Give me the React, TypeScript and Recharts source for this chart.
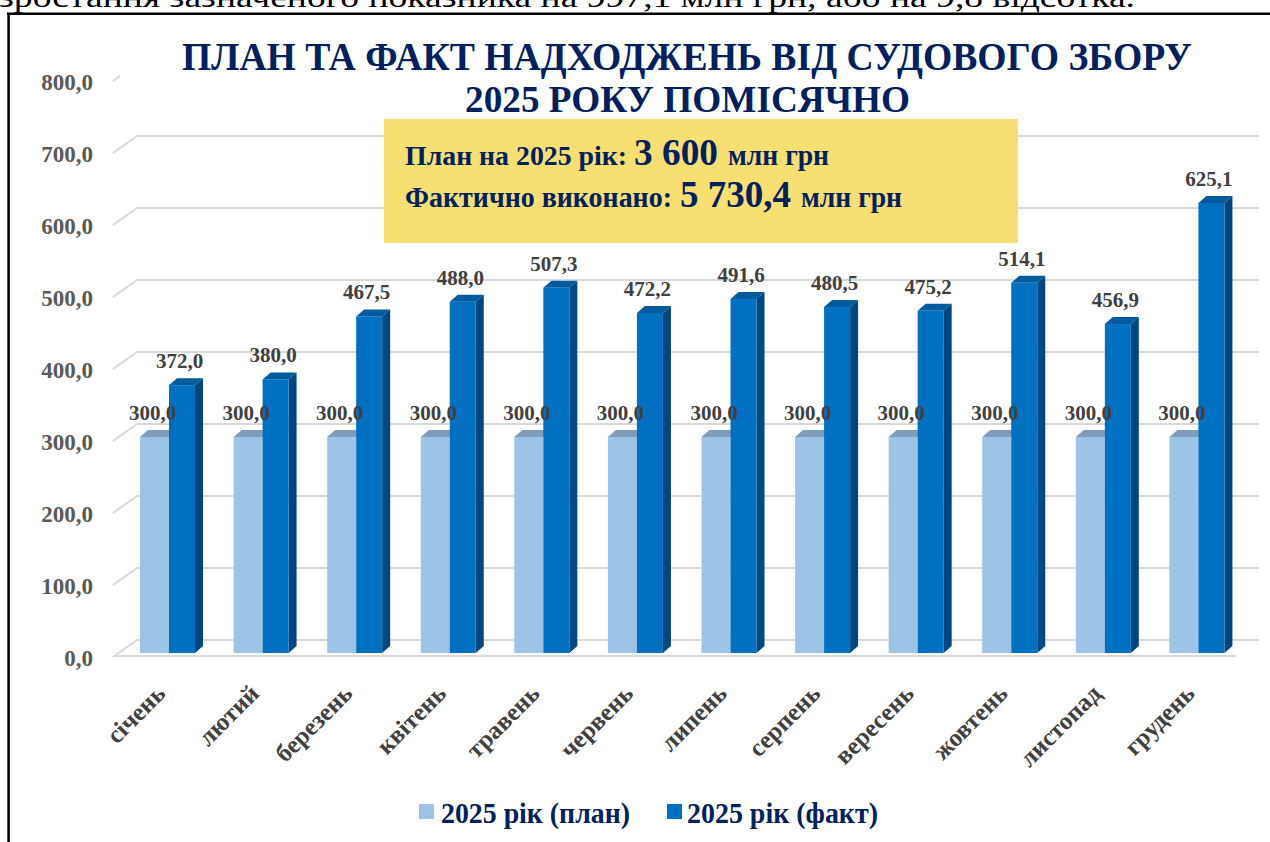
import React from 'react';
import { BarChart, Bar, XAxis, YAxis, CartesianGrid, LabelList, ReferenceLine } from 'recharts';

const months = ['січень', 'лютий', 'березень', 'квітень', 'травень', 'червень', 'липень', 'серпень', 'вересень', 'жовтень', 'листопад', 'грудень'];
const planValues = [300.0, 300.0, 300.0, 300.0, 300.0, 300.0, 300.0, 300.0, 300.0, 300.0, 300.0, 300.0];
const factValues = [372.0, 380.0, 467.5, 488.0, 507.3, 472.2, 491.6, 480.5, 475.2, 514.1, 456.9, 625.1];
const yTicks = [0, 100, 200, 300, 400, 500, 600, 700, 800];

const data = months.map((month, i) => ({ month, plan: planValues[i], fact: factValues[i] }));

const SERIF = '"Liberation Serif", "Times New Roman", serif';
const NAVY = '#002060';
const GRID = '#D9D9D9';
const fmt = (v: number) => v.toFixed(1).replace('.', ',');

// 3D depth of the bars
const DX = 8;
const DY = 7;

function PlanBar(props: any) {
  const { x, y, width, height } = props;
  const bx = x - 2;
  const w = width + 2;
  return (
    <g>
      <polygon points={`${bx},${y} ${bx + DX},${y - DY} ${bx + w + DX},${y - DY} ${bx + w},${y}`} fill="#7F9DBA" />
      <rect x={bx} y={y} width={w} height={height} fill="#9DC3E6" />
    </g>
  );
}

function FactBar(props: any) {
  const { x, y, width, height } = props;
  const w = width - 1;
  return (
    <g>
      <polygon points={`${x},${y} ${x + DX},${y - DY} ${x + w + DX},${y - DY} ${x + w},${y}`} fill="#005B9F" />
      <polygon points={`${x + w},${y} ${x + w + DX},${y - DY} ${x + w + DX},${y + height - DY} ${x + w},${y + height}`} fill="#00477F" />
      <rect x={x} y={y} width={w} height={height} fill="#0070C0" />
    </g>
  );
}

const ValueLabel = (props: any) => {
  const { x, y, width, value } = props;
  return (
    <text x={x + width / 2 - 3} y={y - 17} textAnchor="middle" fontFamily={SERIF} fontWeight="bold" fontSize={21} fill="#404040">
      {fmt(value)}
    </text>
  );
};

const YTick = (props: any) => (
  <text x={93} y={props.y + 5} dy="0.35em" textAnchor="end" fontFamily={SERIF} fontWeight="bold" fontSize={23} fill="#595959">
    {fmt(props.payload.value)}
  </text>
);

const XTick = (props: any) => (
  <text
    transform={`translate(${props.x - 2},${695}) rotate(-45)`}
    textAnchor="end"
    fontFamily={SERIF}
    fontWeight="bold"
    fontSize={25}
    fill="#404040"
  >
    {props.payload.value}
  </text>
);

// back wall gridline with slanted side-wall part
const gridLine = (props: any) => {
  const { x1, x2, y1, key } = props;
  return (
    <polyline
      key={key}
      points={`${x1 - 9},${y1 + 4} ${x1 + 15},${y1 - 13} ${x2 + 14},${y1 - 13}`}
      fill="none"
      stroke={GRID}
      strokeWidth={2}
    />
  );
};

const FloorEdge = (props: any) => {
  const { x1, x2, y1 } = props;
  return <line x1={x1 - 9} y1={y1 + 3} x2={x2 - 9} y2={y1 + 3} stroke={GRID} strokeWidth={2} />;
};

export default function App() {
  return (
    <div style={{ position: 'absolute', left: 0, top: 0, width: 1270, height: 842, background: '#fff', overflow: 'hidden' }}>
      <BarChart width={1270} height={842} data={data} margin={{ top: 77, right: 25, bottom: 0, left: 0 }} barGap={0} barSize={27}>
        <CartesianGrid horizontal={gridLine} vertical={false} />
        <XAxis dataKey="month" height={189} axisLine={false} tickLine={false} tick={<XTick />} interval={0} />
        <YAxis width={122} domain={[0, 800]} ticks={yTicks} axisLine={false} tickLine={false} tick={<YTick />} />
        <ReferenceLine y={0} shape={<FloorEdge />} />
        <Bar dataKey="plan" shape={<PlanBar />} isAnimationActive={false}>
          <LabelList dataKey="plan" content={<ValueLabel />} />
        </Bar>
        <Bar dataKey="fact" shape={<FactBar />} isAnimationActive={false}>
          <LabelList dataKey="fact" content={<ValueLabel />} />
        </Bar>
      </BarChart>

      <svg width={1270} height={842} style={{ position: 'absolute', left: 0, top: 0, pointerEvents: 'none' }}>
        <text x={-1} y={7} fontFamily={SERIF} fontSize={30} fill="#000" textLength={1136} lengthAdjust="spacingAndGlyphs">
          зростання зазначеного показника на 997,1 млн грн, або на 9,8 відсотка.
        </text>
        <line x1={7} y1={13.8} x2={1270} y2={13.8} stroke="#000" strokeWidth={2.5} />
        <line x1={8.6} y1={13} x2={8.6} y2={842} stroke="#000" strokeWidth={2.5} />

        <rect x={120} y={16} width={1142} height={63} fill="#fff" />
        <text x={182} y={70} fontFamily={SERIF} fontWeight="bold" fontSize={40} fill={NAVY} textLength={1010} lengthAdjust="spacingAndGlyphs">
          ПЛАН ТА ФАКТ НАДХОДЖЕНЬ ВІД СУДОВОГО ЗБОРУ
        </text>
        <text x={465} y={112} fontFamily={SERIF} fontWeight="bold" fontSize={38} fill={NAVY} textLength={445} lengthAdjust="spacingAndGlyphs">
          2025 РОКУ ПОМІСЯЧНО
        </text>

        <rect x={384} y={119} width={634} height={124} fill="#F7DF72" />
        <g fontFamily={SERIF} fontWeight="bold" fill={NAVY}>
          <text x={405} y={165} fontSize={28} textLength={222} lengthAdjust="spacingAndGlyphs">План на 2025 рік:</text>
          <text x={634} y={165} fontSize={37} textLength={84} lengthAdjust="spacingAndGlyphs">3 600</text>
          <text x={728} y={165} fontSize={29} textLength={101} lengthAdjust="spacingAndGlyphs">млн грн</text>
          <text x={405} y={207} fontSize={29} textLength={267} lengthAdjust="spacingAndGlyphs">Фактично виконано:</text>
          <text x={680} y={207} fontSize={37} textLength={111} lengthAdjust="spacingAndGlyphs">5 730,4</text>
          <text x={801} y={207} fontSize={29} textLength={101} lengthAdjust="spacingAndGlyphs">млн грн</text>
        </g>

        <rect x={419} y={804} width={15} height={15} fill="#9DC3E6" />
        <text x={441} y={823} fontFamily={SERIF} fontWeight="bold" fontSize={29} fill={NAVY} textLength={189} lengthAdjust="spacingAndGlyphs">
          2025 рік (план)
        </text>
        <rect x={667} y={804} width={15} height={15} fill="#0070C0" />
        <text x={687} y={823} fontFamily={SERIF} fontWeight="bold" fontSize={29} fill={NAVY} textLength={191} lengthAdjust="spacingAndGlyphs">
          2025 рік (факт)
        </text>
      </svg>
    </div>
  );
}
